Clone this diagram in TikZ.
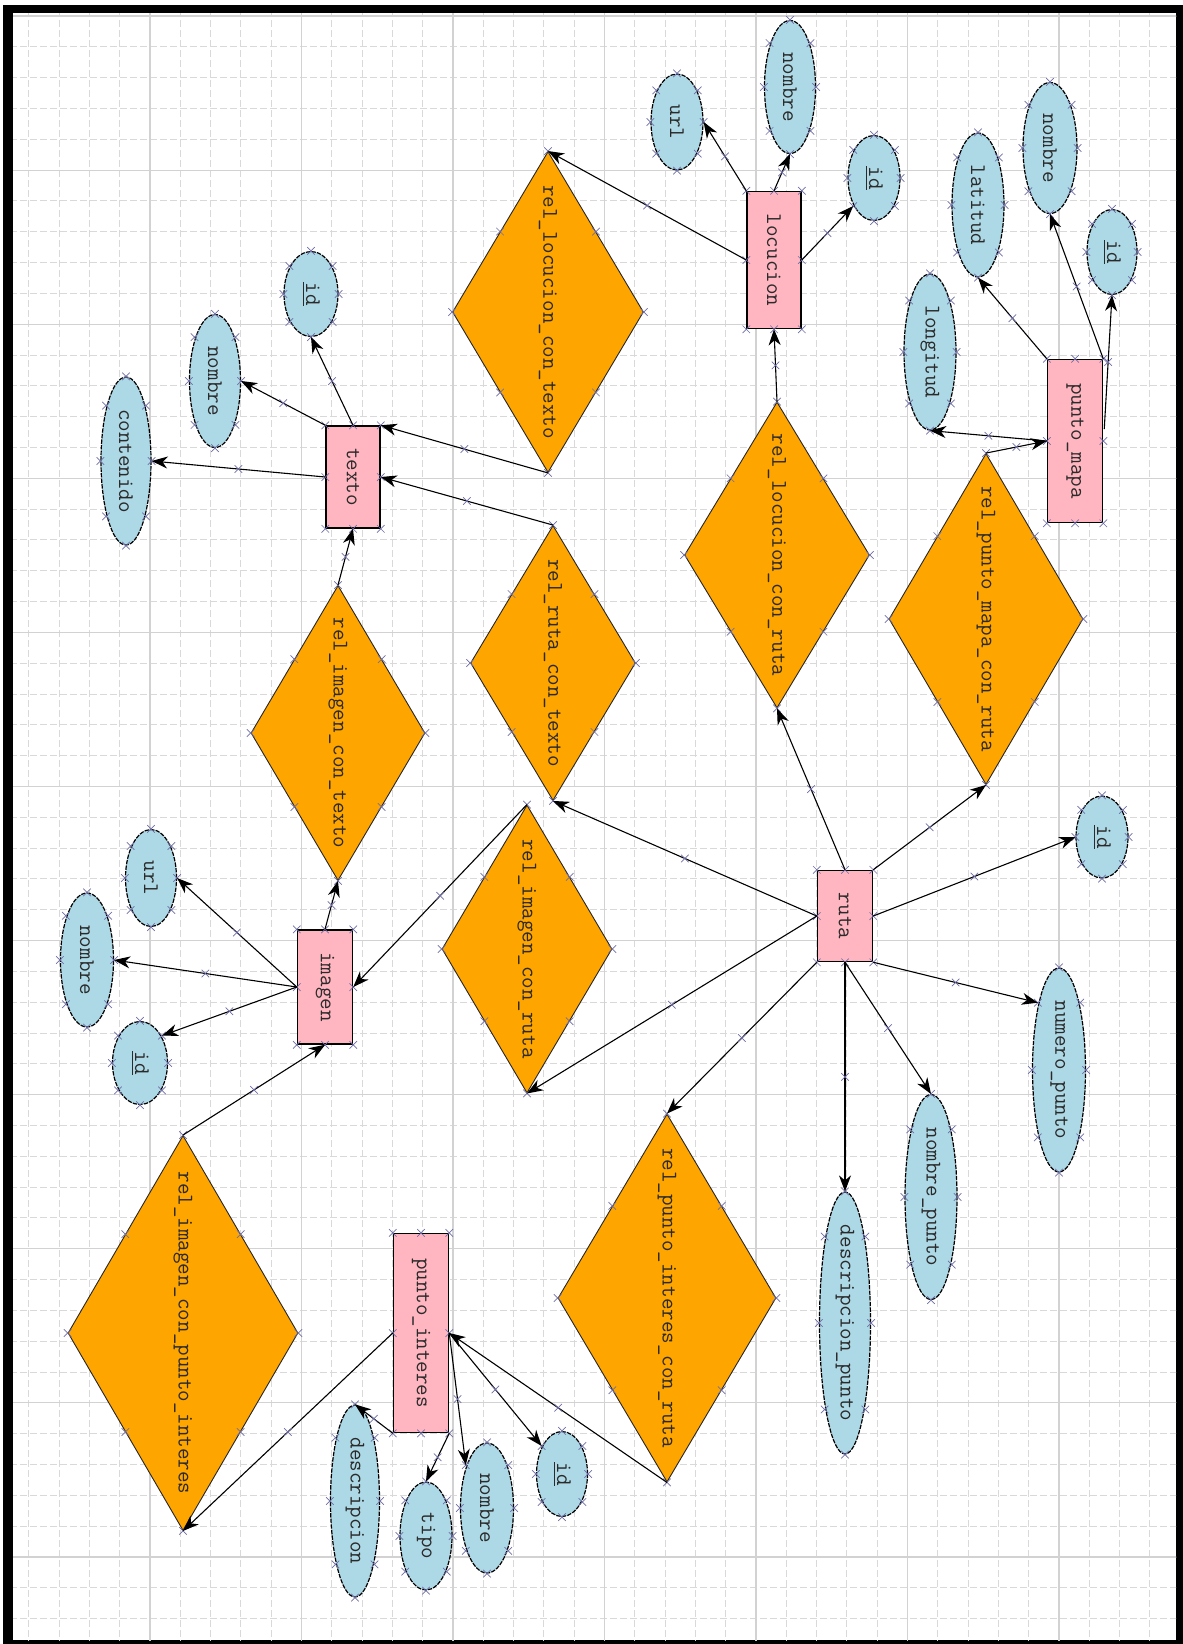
\documentclass[tikz,border=0pt]{standalone}
\usepackage{fontspec}
\usetikzlibrary{arrows.meta,shapes.geometric,shapes.misc,calc}

\definecolor{entfill}{HTML}{FFB6C1}
\definecolor{relfill}{HTML}{FFA500}
\definecolor{attfill}{HTML}{ADD8E6}
\definecolor{markcol}{HTML}{6E6EA8}
\definecolor{gridmajor}{HTML}{D2D2D2}
\definecolor{gridminor}{HTML}{D9D9D9}
\definecolor{labelcol}{HTML}{2A2A2A}

\tikzset{
  vtext/.style={inner sep=0pt, rotate=-90, font=\ttfamily\fontsize{11.2}{13}\selectfont, text=labelcol},
  entity/.style={rectangle, draw=black, line width=0.75pt, fill=entfill, inner sep=0pt},
  relation/.style={diamond, draw=black!85, line width=0.45pt, fill=relfill, inner sep=0pt, aspect=0.6},
  attribute/.style={ellipse, draw=black, line width=0.6pt, dash pattern=on 2.2pt off 0.6pt, fill=attfill, inner sep=0pt},
  xm/.style={cross out, draw=markcol, line width=0.35pt, minimum size=3.4pt, inner sep=0pt},
  link/.style={draw=black, line width=0.55pt, -{Stealth[length=8pt,width=6pt,inset=2.5pt]}},
  minorline/.style={draw=gridminor, line width=0.5pt, dash pattern=on 3.5pt off 1.5pt},
  majorline/.style={draw=gridmajor, line width=0.55pt},
}

% entity: name, x, y, width, height (px), label
\newcommand{\Entity}[6]{%
  \node[entity, minimum width={#4*0.5pt}, minimum height={#5*0.5pt}] (#1) at (#2,#3) {};
  \node[vtext] (#1-t) at (#1.center) {#6};
  \foreach \an [count=\k] in {north west,north,north east,east,south east,south,south west,west}
    {\node[xm] (#1-m\k) at (#1.\an) {};}%
}
% relationship diamond
\newcommand{\Relation}[6]{%
  \node[relation, minimum width={#4*0.5pt}, minimum height={#5*0.5pt}] (#1) at (#2,#3) {};
  \node[vtext] (#1-t) at (#1.center) {#6};
  \foreach \an [count=\k] in {north,east,south,west}
    {\node[xm] (#1-m\k) at (#1.\an) {};}%
  \foreach \p/\q [count=\k] in {north/east,east/south,south/west,west/north}
    {\node[xm] (#1-e\k) at ($(#1.\p)!0.5!(#1.\q)$) {};}%
}
% attribute ellipse
\newcommand{\Attribute}[6]{%
  \node[attribute, minimum width={#4*0.5pt}, minimum height={#5*0.5pt}] (#1) at (#2,#3) {};
  \node[vtext] (#1-t) at (#1.center) {#6};
  \coordinate (#1-ne) at ($(#1.center)+({0.4*#4},{-0.33*#5})$);
  \coordinate (#1-nw) at ($(#1.center)+({-0.4*#4},{-0.33*#5})$);
  \coordinate (#1-se) at ($(#1.center)+({0.4*#4},{0.33*#5})$);
  \coordinate (#1-sw) at ($(#1.center)+({-0.4*#4},{0.33*#5})$);
  \foreach \an [count=\k] in {north,south,east,west}
    {\node[xm] (#1-m\k) at (#1.\an) {};}%
  \foreach \an [count=\k] in {ne,nw,se,sw}
    {\node[xm] (#1-d\k) at (#1-\an) {};}%
}
% connector with its middle mark
\newcommand{\Link}[3]{\draw[link] (#1) -- node[xm, midway] (#3) {} (#2);}

\begin{document}
\begin{tikzpicture}[x=0.5pt, y=-0.5pt]
\useasboundingbox (0,0) rectangle (1183,1644);
\fill[white] (0,0) rectangle (1183,1644);

% frame
\fill[black] (3,5) rectangle (1183,1644);
\fill[white] (13,13) rectangle (1176,1640);

% grid
\begin{scope}
  \clip (13,13) rectangle (1176,1640);
  \foreach \i in {0,...,39} \draw[minorline] ({-1.5+30.3*\i},0) -- ({-1.5+30.3*\i},1644);
  \foreach \i in {0,...,54} \draw[minorline] (0,{16+30.82*\i}) -- (1183,{16+30.82*\i});
  \foreach \i in {0,...,7} \draw[majorline] ({-1.5+151.5*\i},0) -- ({-1.5+151.5*\i},1644);
  \foreach \i in {0,...,10} \draw[majorline] (0,{16+154.1*\i}) -- (1183,{16+154.1*\i});
\end{scope}

% entities
\Entity{texto}{353}{477}{54}{102}{texto}
\Entity{locucion}{774}{260}{54}{137}{locucion}
\Entity{puntomapa}{1075}{441}{55}{163}{punto\_mapa}
\Entity{imagen}{325}{987}{55}{114}{imagen}
\Entity{ruta}{845}{916}{55}{91}{ruta}
\Entity{puntointeres}{421}{1333}{55}{199}{punto\_interes}

% relationships
\Relation{rlt}{548}{312}{191}{321}{rel\_locucion\_con\_texto}
\Relation{rrt}{553}{663}{165}{275}{rel\_ruta\_con\_texto}
\Relation{rlr}{777}{555}{185}{306}{rel\_locucion\_con\_ruta}
\Relation{rpm}{986}{619}{194}{331}{rel\_punto\_mapa\_con\_ruta}
\Relation{rit}{338}{733}{174}{295}{rel\_imagen\_con\_texto}
\Relation{rir}{527}{949}{170}{288}{rel\_imagen\_con\_ruta}
\Relation{rip}{183}{1333}{230}{395}{rel\_imagen\_con\_punto\_interes}
\Relation{rpr}{667}{1298}{218}{368}{rel\_punto\_interes\_con\_ruta}

% attributes of texto
\Attribute{tid}{311}{294}{54}{85}{\underline{id}}
\Attribute{tnombre}{215}{381}{51}{133}{nombre}
\Attribute{tcontenido}{126}{461}{50}{168}{contenido}
% attributes of locucion
\Attribute{lurl}{677}{122}{52}{96}{url}
\Attribute{lnombre}{790}{87}{51}{133}{nombre}
\Attribute{lid}{874}{178}{52}{85}{\underline{id}}
% attributes of punto_mapa
\Attribute{mlongitud}{930}{352}{52}{156}{longitud}
\Attribute{mlatitud}{978}{205}{52}{144}{latitud}
\Attribute{mnombre}{1050}{148}{54}{131}{nombre}
\Attribute{mid}{1112}{252}{50}{85}{\underline{id}}
% attributes of imagen
\Attribute{iurl}{151}{878}{51}{97}{url}
\Attribute{inombre}{87}{960}{53}{134}{nombre}
\Attribute{iid}{140}{1063}{55}{83}{\underline{id}}
% attributes of punto_interes
\Attribute{pdescripcion}{355}{1501}{49}{192}{descripcion}
\Attribute{ptipo}{426}{1536}{52}{108}{tipo}
\Attribute{pnombre}{487}{1508}{53}{130}{nombre}
\Attribute{pid}{562}{1474}{51}{85}{\underline{id}}
% attributes of ruta
\Attribute{rid}{1102}{837}{52}{82}{\underline{id}}
\Attribute{rnumero}{1059}{1070}{53}{204}{numero\_punto}
\Attribute{rnombre}{931}{1197}{52}{205}{nombre\_punto}
\Attribute{rdescripcion}{845}{1323}{51}{262}{descripcion\_punto}

\coordinate (pmside) at ($(puntomapa.east)+(1,-12)$);

% connectors
\Link{texto.west}{tcontenido.east}{c1}
\Link{texto.north west}{tnombre.east}{c2}
\Link{texto.north}{tid.south}{c3}
\Link{rlt.south}{texto.north east}{c4}
\Link{rrt.north}{texto.east}{c5}
\Link{rit.north}{texto.south}{c6}
\Link{locucion.north west}{lurl.east}{c7}
\Link{locucion.north}{lnombre.south}{c8}
\Link{locucion.east}{lid-sw}{c9}
\Link{locucion.west}{rlt.north}{c10}
\Link{rlr.north}{locucion.south}{c11}
\Link{puntomapa.north west}{mlatitud.south}{c12}
\Link{puntomapa.north east}{mnombre.south}{c13}
\Link{pmside}{mid.south}{c14}
\Link{puntomapa.west}{mlongitud.south}{c15}
\Link{rpm.north}{puntomapa.west}{c16}
\Link{ruta.north}{rlr.south}{c17}
\Link{ruta.west}{rrt.south}{c18}
\Link{ruta.west}{rir.south}{c19}
\Link{ruta.south west}{rpr.north}{c20}
\Link{ruta.north east}{rpm.south}{c21}
\Link{ruta.east}{rid.west}{c22}
\Link{ruta.south east}{rnumero-nw}{c23}
\Link{ruta.south}{rnombre.north}{c24}
\Link{ruta.south}{rdescripcion.north}{c25}
\Link{imagen.west}{iurl.east}{c26}
\Link{imagen.west}{inombre.east}{c27}
\Link{imagen.west}{iid-ne}{c28}
\Link{imagen.north}{rit.south}{c29}
\Link{rir.north}{imagen.east}{c30}
\Link{rip.north}{imagen.south}{c31}
\Link{puntointeres.west}{rip.south}{c32}
\Link{puntointeres.south west}{pdescripcion.north}{c33}
\Link{puntointeres.south east}{ptipo.north}{c34}
\Link{puntointeres.east}{pnombre-nw}{c35}
\Link{puntointeres.east}{pid-nw}{c36}
\Link{rpr.south}{puntointeres.east}{c37}
\end{tikzpicture}
\end{document}
